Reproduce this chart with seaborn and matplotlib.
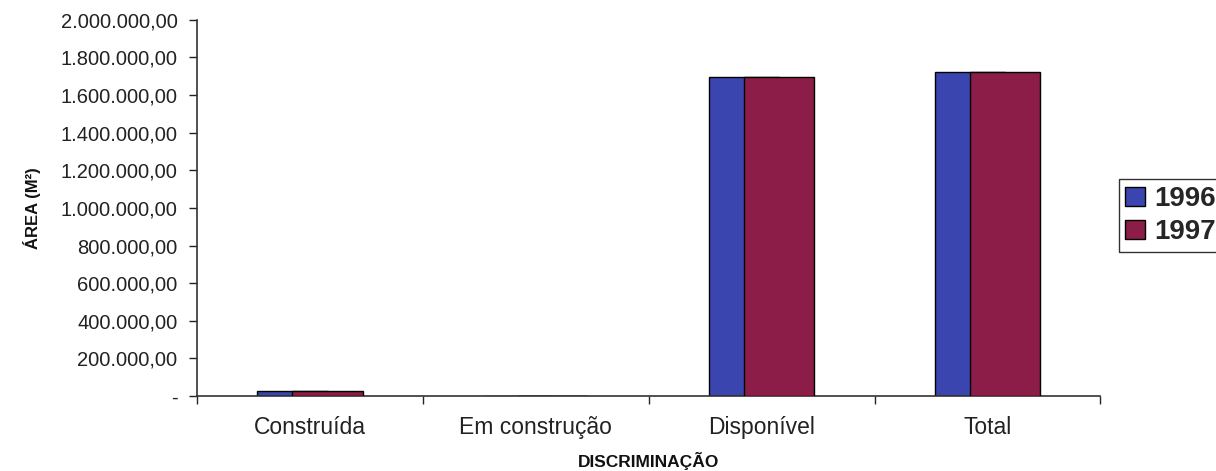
import numpy as np
import pandas as pd
import matplotlib
matplotlib.use("Agg")
import matplotlib.pyplot as plt
import seaborn as sns
from matplotlib.ticker import FuncFormatter, FixedLocator

# data
categorias = ["Construída", "Em construção", "Disponível", "Total"]
area_1996 = [26000, 0, 1695000, 1720000]
area_1997 = [26000, 0, 1695000, 1720000]
anos = ["1996", "1997"]

df = pd.DataFrame({
    "categoria": categorias * 2,
    "area": area_1996 + area_1997,
    "ano": [anos[0]] * 4 + [anos[1]] * 4,
})

sns.set_style("white")
plt.rcParams["font.family"] = ["Liberation Sans", "DejaVu Sans"]

fig = plt.figure(figsize=(12.16, 4.71), dpi=100)
ax = fig.add_axes([0.162, 0.159, 0.743, 0.799])

cores = {"1996": "#3a45b0", "1997": "#8c1c48"}
sns.barplot(data=df, x="categoria", y="area", hue="ano", palette=cores,
            width=0.622, edgecolor="black", linewidth=1.0, ax=ax,
            saturation=1, legend=True)

# Excel-style overlap: shift the bars of each pair towards each other
n = len(categorias)
for i, p in enumerate(ax.patches[:2 * n]):
    if i < n:
        p.set_x(p.get_x() + 0.078)
        p.set_zorder(2)
    else:
        p.set_x(p.get_x() - 0.078)
        p.set_zorder(3)

ax.set_ylim(0, 2000000)
ax.set_xlim(-0.5, 3.5)
ax.set_yticks(np.arange(0, 2000001, 200000))


def fmt(v, pos):
    if v == 0:
        return "-"
    s = f"{v:,.2f}"
    return s.replace(",", "X").replace(".", ",").replace("X", ".")


ax.yaxis.set_major_formatter(FuncFormatter(fmt))
ax.tick_params(axis="y", direction="out", length=6, width=1, left=True,
               labelsize=14.5, pad=8, colors="#222222")
ax.tick_params(axis="x", which="major", length=0, labelsize=16.5, pad=14,
               colors="#222222")
ax.xaxis.set_minor_locator(FixedLocator([-0.5, 0.5, 1.5, 2.5, 3.5]))
ax.tick_params(axis="x", which="minor", direction="out", length=6, width=1,
               bottom=True)

for s in ["top", "right"]:
    ax.spines[s].set_visible(False)
for s in ["left", "bottom"]:
    ax.spines[s].set_color("#333333")
    ax.spines[s].set_linewidth(1.2)

ax.set_xlabel("DISCRIMINAÇÃO", fontsize=12.5, fontweight="bold", labelpad=10,
              color="#111111")
ax.set_ylabel("ÁREA (M²)", fontsize=12, fontweight="bold", labelpad=14,
              color="#111111")

handles, labels = ax.get_legend_handles_labels()
ax.legend(handles, labels, loc="center left", bbox_to_anchor=(1.02, 0.48),
          frameon=True, fancybox=False, edgecolor="black",
          prop={"size": 20, "weight": "bold"}, handlelength=0.7,
          handleheight=0.7, handletextpad=0.35, borderpad=0.25,
          labelspacing=0.25, borderaxespad=0)

fig.savefig("out.png", dpi=100)
